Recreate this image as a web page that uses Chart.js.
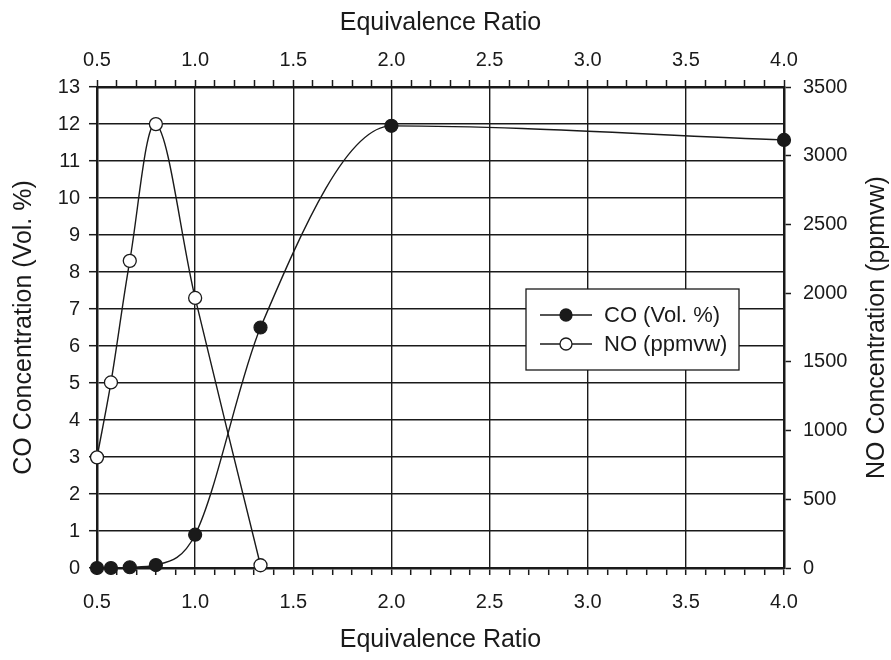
<!DOCTYPE html>
<html>
<head>
<meta charset="utf-8">
<script src="https://cdn.jsdelivr.net/npm/chart.js@4/dist/chart.umd.min.js"></script>
<style>
  html, body { margin: 0; padding: 0; background: #fff; }
  #wrap { width: 891px; height: 660px; }
</style>
</head>
<body>
<div id="wrap"><canvas id="chart" width="891" height="660"></canvas></div>
<script>
// Equivalence ratios where CO was measured
const coRatio = [0.5, 0.571, 0.667, 0.8, 1.0, 1.333, 2.0, 4.0];
const coValues = [0, 0, 0.02, 0.08, 0.9, 6.5, 11.95, 11.57];
// NO readings (right axis, ppmvw)
const noRatio = [0.5, 0.571, 0.667, 0.8, 1.0, 1.333];
const noValues = [805, 1350, 2235, 3230, 1965, 20];
const xTickLabels = ['0.5', '1.0', '1.5', '2.0', '2.5', '3.0', '3.5', '4.0'];

const FONT = 'Liberation Sans, Arial, Helvetica, sans-serif';
const ink = '#1a1a1a';
const TICK_SIZE = 20;
const TITLE_SIZE = 25;

// area edges
const AREA = { left: 97, right: 784, top: 87, bottom: 568 };

function isHalf(v) {
  return Math.abs(v * 2 - Math.round(v * 2)) < 1e-6;
}

function xLabel(v) {
  if (!isHalf(v)) return '';
  const s = v.toFixed(1);
  return xTickLabels.includes(s) ? s : '';
}

// legend box + rotated right-hand title
const extras = {
  id: 'extras',
  afterDraw(chart) {
    const ctx = chart.ctx;
    ctx.save();
    // legend
    const bx = 526, by = 289, bw = 213, bh = 81;
    ctx.fillStyle = '#fff';
    ctx.fillRect(bx, by, bw, bh);
    ctx.strokeStyle = ink;
    ctx.lineWidth = 1.3;
    ctx.strokeRect(bx, by, bw, bh);
    const rows = [
      { label: chart.data.datasets[0].label, y: 315, fill: ink },
      { label: chart.data.datasets[1].label, y: 344, fill: '#fff' }
    ];
    rows.forEach(r => {
      ctx.beginPath();
      ctx.moveTo(540, r.y);
      ctx.lineTo(592, r.y);
      ctx.strokeStyle = ink;
      ctx.lineWidth = 1.3;
      ctx.stroke();
      ctx.beginPath();
      ctx.arc(566, r.y, 6, 0, Math.PI * 2);
      ctx.fillStyle = r.fill;
      ctx.fill();
      ctx.stroke();
      ctx.fillStyle = ink;
      ctx.font = '22px ' + FONT;
      ctx.textAlign = 'left';
      ctx.textBaseline = 'middle';
      ctx.fillText(r.label, 604, r.y + 1);
    });
    // right title reads bottom to top, like the left one
    ctx.translate(877, (AREA.top + AREA.bottom) / 2);
    ctx.rotate(-Math.PI / 2);
    ctx.font = TITLE_SIZE + 'px ' + FONT;
    ctx.textAlign = 'center';
    ctx.textBaseline = 'middle';
    ctx.fillText('NO Concentration (ppmvw)', 0, 0);
    ctx.restore();
  }
};

const ctx = document.getElementById('chart').getContext('2d');
const chart = new Chart(ctx, {
  type: 'line',
  data: {
    datasets: [
      {
        label: 'CO (Vol. %)',
        data: coRatio.map((x, i) => ({ x: x, y: coValues[i] })),
        yAxisID: 'y',
        borderColor: ink,
        borderWidth: 1.4,
        pointRadius: 6.5,
        pointBackgroundColor: ink,
        pointBorderColor: ink,
        pointBorderWidth: 1.2,
        cubicInterpolationMode: 'monotone',
        clip: false
      },
      {
        label: 'NO (ppmvw)',
        data: noRatio.map((x, i) => ({ x: x, y: noValues[i] })),
        yAxisID: 'y2',
        borderColor: ink,
        borderWidth: 1.4,
        pointRadius: 6.5,
        pointBackgroundColor: '#fff',
        pointBorderColor: ink,
        pointBorderWidth: 1.3,
        tension: 0.35,
        clip: false
      }
    ]
  },
  options: {
    responsive: false,
    animation: false,
    layout: { padding: 0 },
    plugins: {
      legend: { display: false },
      tooltip: { enabled: false }
    },
    scales: {
      x: {
        type: 'linear',
        position: 'bottom',
        min: 0.5,
        max: 4.0,
        afterFit: s => { s.height = 660 - AREA.bottom; },
        ticks: {
          stepSize: 0.1,
          autoSkip: false,
          maxRotation: 0,
          padding: 15,
          color: ink,
          font: { family: FONT, size: TICK_SIZE },
          callback: v => xLabel(v)
        },
        grid: {
          color: c => isHalf(c.tick.value) ? ink : 'rgba(0,0,0,0)',
          lineWidth: 1.4,
          tickColor: ink,
          tickLength: 7,
          tickWidth: 1.5
        },
        border: { color: ink, width: 2.5 },
        title: {
          display: true,
          text: 'Equivalence Ratio',
          color: ink,
          font: { family: FONT, size: TITLE_SIZE },
          padding: { top: 0, bottom: 5 }
        }
      },
      x2: {
        type: 'linear',
        position: 'top',
        min: 0.5,
        max: 4.0,
        afterFit: s => { s.height = AREA.top; },
        ticks: {
          stepSize: 0.1,
          autoSkip: false,
          maxRotation: 0,
          padding: 8,
          color: ink,
          font: { family: FONT, size: TICK_SIZE },
          callback: v => xLabel(v)
        },
        grid: {
          drawOnChartArea: false,
          tickColor: ink,
          tickLength: 7,
          tickWidth: 1.5
        },
        border: { color: ink, width: 2.5 },
        title: {
          display: true,
          text: 'Equivalence Ratio',
          color: ink,
          font: { family: FONT, size: TITLE_SIZE },
          padding: { top: 8, bottom: 0 }
        }
      },
      y: {
        type: 'linear',
        position: 'left',
        min: 0,
        max: 13,
        afterFit: s => { s.width = AREA.left; },
        ticks: {
          stepSize: 1,
          padding: 9,
          color: ink,
          font: { family: FONT, size: TICK_SIZE }
        },
        grid: {
          color: ink,
          lineWidth: 1.4,
          tickColor: ink,
          tickLength: 8,
          tickWidth: 1.5
        },
        border: { color: ink, width: 2.5 },
        title: {
          display: true,
          text: 'CO Concentration (Vol. %)',
          color: ink,
          font: { family: FONT, size: TITLE_SIZE },
          padding: { top: 9, bottom: 0 }
        }
      },
      y2: {
        type: 'linear',
        position: 'right',
        min: 0,
        max: 3500,
        afterFit: s => { s.width = 891 - AREA.right; },
        ticks: {
          stepSize: 500,
          padding: 12,
          color: ink,
          font: { family: FONT, size: TICK_SIZE },
          callback: v => String(v)
        },
        grid: {
          drawOnChartArea: false,
          tickColor: ink,
          tickLength: 7,
          tickWidth: 1.5
        },
        border: { color: ink, width: 2.5 }
      }
    }
  },
  plugins: [extras]
});
</script>
</body>
</html>
